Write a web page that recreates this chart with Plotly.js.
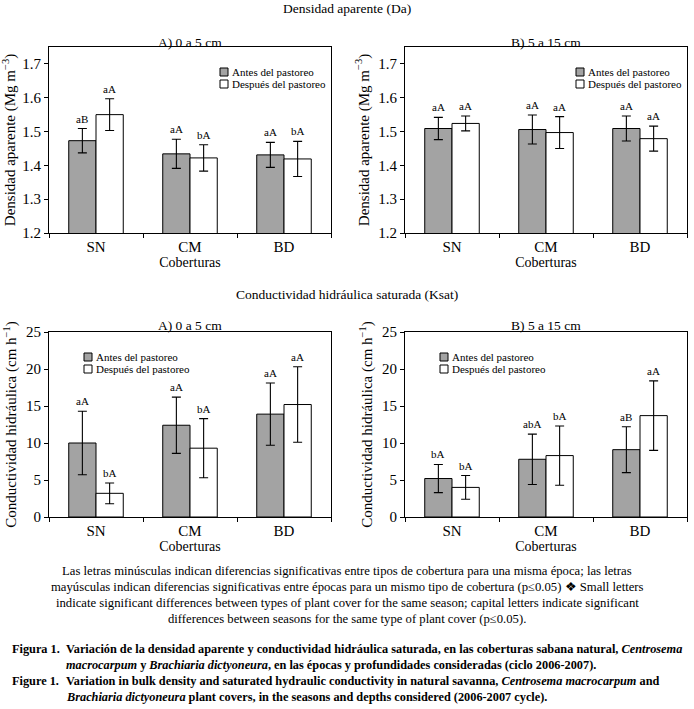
<!DOCTYPE html>
<html>
<head>
<meta charset="utf-8">
<script src="https://cdn.plot.ly/plotly-3.0.1.min.js"></script>
<style>html,body{margin:0;padding:0;background:#fff;}#chart{width:694px;height:709px;}</style>
</head>
<body>
<div id="chart"></div>
<script>
// ---- Data ----
const categories = ['SN', 'CM', 'BD'];
const seriesNames = ['Antes del pastoreo', 'Después del pastoreo'];

// Densidad aparente, A) 0 a 5 cm
const daA_antes = [1.473, 1.434, 1.431];
const daA_antes_err = [0.036, 0.043, 0.037];
const daA_desp = [1.550, 1.422, 1.419];
const daA_desp_err = [0.047, 0.039, 0.052];
const daA_antes_lbl = ['aB', 'aA', 'aA'];
const daA_desp_lbl = ['aA', 'bA', 'bA'];

// Densidad aparente, B) 5 a 15 cm
const daB_antes = [1.509, 1.506, 1.509];
const daB_antes_err = [0.033, 0.043, 0.037];
const daB_desp = [1.524, 1.497, 1.479];
const daB_desp_err = [0.022, 0.047, 0.037];
const daB_antes_lbl = ['aA', 'aA', 'aA'];
const daB_desp_lbl = ['aA', 'aA', 'aA'];

// Conductividad hidráulica, A) 0 a 5 cm
const ksA_antes = [10.0, 12.4, 13.9];
const ksA_antes_err = [4.3, 3.8, 4.2];
const ksA_desp = [3.2, 9.3, 15.2];
const ksA_desp_err = [1.4, 4.0, 5.1];
const ksA_antes_lbl = ['aA', 'aA', 'aA'];
const ksA_desp_lbl = ['bA', 'bA', 'aA'];

// Conductividad hidráulica, B) 5 a 15 cm
const ksB_antes = [5.2, 7.8, 9.1];
const ksB_antes_err = [1.9, 3.4, 3.1];
const ksB_desp = [4.0, 8.3, 13.7];
const ksB_desp_err = [1.6, 4.0, 4.7];
const ksB_antes_lbl = ['bA', 'abA', 'aB'];
const ksB_desp_lbl = ['bA', 'bA', 'aA'];

const daTicks = [1.2, 1.3, 1.4, 1.5, 1.6, 1.7];
const ksTicks = [0, 5, 10, 15, 20, 25];

// ---- Styling ----
const FONT = '"Liberation Serif", "Times New Roman", serif';
const GREY = '#a3a3a3';
const BARCOLORS = [GREY, '#ffffff'];
const BARGAP = 0.42;
const OFF = (1 - BARGAP) / 4; // center offset of each bar in a group

const W = 694, H = 709;
const px = v => v / W;
const py = v => 1 - v / H;

const panels = [
  {xa: 'x', ya: 'y', lx: 220, ly: 72, ante: daA_antes, ae: daA_antes_err, desp: daA_desp, de: daA_desp_err, al: daA_antes_lbl, dl: daA_desp_lbl},
  {xa: 'x2', ya: 'y2', lx: 576, ly: 72, ante: daB_antes, ae: daB_antes_err, desp: daB_desp, de: daB_desp_err, al: daB_antes_lbl, dl: daB_desp_lbl},
  {xa: 'x3', ya: 'y3', lx: 84, ly: 357, ante: ksA_antes, ae: ksA_antes_err, desp: ksA_desp, de: ksA_desp_err, al: ksA_antes_lbl, dl: ksA_desp_lbl},
  {xa: 'x4', ya: 'y4', lx: 440, ly: 357, ante: ksB_antes, ae: ksB_antes_err, desp: ksB_desp, de: ksB_desp_err, al: ksB_antes_lbl, dl: ksB_desp_lbl}
];

const traces = [];
const annotations = [];
const shapes = [];
panels.forEach(p => {
  const errStyle = {type: 'data', color: '#000', thickness: 1.1, width: 4.5};
  traces.push({
    type: 'bar', x: categories, y: p.ante, name: seriesNames[0],
    xaxis: p.xa, yaxis: p.ya, showlegend: false,
    marker: {color: BARCOLORS[0], line: {color: '#000', width: 1}},
    error_y: Object.assign({array: p.ae}, errStyle)
  });
  traces.push({
    type: 'bar', x: categories, y: p.desp, name: seriesNames[1],
    xaxis: p.xa, yaxis: p.ya, showlegend: false,
    marker: {color: BARCOLORS[1], line: {color: '#000', width: 1}},
    error_y: Object.assign({array: p.de}, errStyle)
  });
  categories.forEach((c, i) => {
    annotations.push({xref: p.xa, yref: p.ya, x: i - OFF, y: p.ante[i] + p.ae[i], text: p.al[i],
      showarrow: false, yanchor: 'bottom', yshift: 2, font: {family: FONT, size: 11, color: '#000'}});
    annotations.push({xref: p.xa, yref: p.ya, x: i + OFF, y: p.desp[i] + p.de[i], text: p.dl[i],
      showarrow: false, yanchor: 'bottom', yshift: 2, font: {family: FONT, size: 11, color: '#000'}});
  });
  // legend (key swatches + labels)
  seriesNames.forEach((nm, k) => {
    const cy = p.ly + 12 * k;
    shapes.push({type: 'rect', xref: 'paper', yref: 'paper',
      x0: px(p.lx), x1: px(p.lx + 8), y0: py(cy + 4), y1: py(cy - 4),
      fillcolor: BARCOLORS[k], line: {color: '#000', width: 1}});
    annotations.push({xref: 'paper', yref: 'paper', x: px(p.lx + 10), y: py(cy), text: nm,
      showarrow: false, xanchor: 'left', yanchor: 'middle', font: {family: FONT, size: 11, color: '#000'}});
  });
});

function xaxis(d0, d1, anchor) {
  return {
    domain: [px(d0), px(d1)], anchor: anchor, type: 'category',
    showline: true, mirror: true, linecolor: '#000', linewidth: 1,
    ticks: 'outside', tickson: 'boundaries', ticklen: 4, tickcolor: '#000',
    showgrid: false, zeroline: false, fixedrange: true,
    tickfont: {family: FONT, size: 15, color: '#000'},
    title: {text: 'Coberturas', font: {family: FONT, size: 14, color: '#000'}, standoff: 2}
  };
}
function yaxis(d0, d1, anchor, range, ticks, title, fmt) {
  return {
    domain: [py(d1), py(d0)], anchor: anchor, range: range,
    tickvals: ticks, tickformat: fmt,
    showline: true, mirror: true, linecolor: '#000', linewidth: 1,
    ticks: 'outside', ticklen: 4, tickcolor: '#000',
    showgrid: false, zeroline: false, fixedrange: true,
    tickfont: {family: FONT, size: 15, color: '#000'},
    title: {text: title, font: {family: FONT, size: 15, color: '#000'}, standoff: 5}
  };
}

const daTitle = 'Densidad aparente (Mg m<sup>−3</sup>)';
const ksTitle = 'Conductividad hidráulica (cm h<sup>−1</sup>)';

function txt(x, y, text, size, anchor) {
  return {xref: 'paper', yref: 'paper', x: px(x), y: py(y), text: text, showarrow: false,
    xanchor: anchor || 'center', yanchor: 'middle', font: {family: FONT, size: size, color: '#000'}};
}

// Titles and captions
annotations.push(txt(347, 9, 'Densidad aparente (Da)', 13.5));
annotations.push(txt(190, 42, 'A) 0 a 5 cm', 13.5));
annotations.push(txt(546, 42, 'B) 5 a 15 cm', 13.5));
annotations.push(txt(347, 294, 'Conductividad hidráulica saturada (Ksat)', 13.5));
annotations.push(txt(190, 326, 'A) 0 a 5 cm', 13.5));
annotations.push(txt(546, 326, 'B) 5 a 15 cm', 13.5));

const noteLines = [
  'Las letras minúsculas indican diferencias significativas entre tipos de cobertura para una misma época; las letras',
  'mayúsculas indican diferencias significativas entre épocas para un mismo tipo de cobertura (p≤0.05) ❖ Small letters',
  'indicate significant differences between types of plant cover for the same season; capital letters indicate significant',
  'differences between seasons for the same type of plant cover (p≤0.05).'
];
noteLines.forEach((t, i) => annotations.push(txt(347, 571 + 16 * i, t, 12.7)));

const capLabels = ['<b>Figura 1.</b>', '', '<b>Figure 1.</b>', ''];
const capLines = [
  '<b>Variación de la densidad aparente y conductividad hidráulica saturada, en las coberturas sabana natural, <i>Centrosema</i></b>',
  '<b><i>macrocarpum</i> y <i>Brachiaria dictyoneura</i>, en las épocas y profundidades consideradas (ciclo 2006-2007).</b>',
  '<b>Variation in bulk density and saturated hydraulic conductivity in natural savanna, <i>Centrosema macrocarpum</i> and</b>',
  '<b><i>Brachiaria dictyoneura</i> plant covers, in the seasons and depths considered (2006-2007 cycle).</b>'
];
capLines.forEach((t, i) => {
  if (capLabels[i]) annotations.push(txt(10, 649 + 16 * i, capLabels[i], 12.3, 'left'));
  annotations.push(txt(64, 649 + 16 * i, t, 12.3, 'left'));
});

const layout = {
  width: W, height: H,
  margin: {l: 0, r: 0, t: 0, b: 0},
  paper_bgcolor: '#fff', plot_bgcolor: '#fff',
  barmode: 'group', bargap: BARGAP, bargroupgap: 0,
  font: {family: FONT, color: '#000'},
  xaxis: xaxis(49, 331, 'y'),
  yaxis: yaxis(47, 233, 'x', [1.2, 1.75], daTicks, daTitle, '.1f'),
  xaxis2: xaxis(405, 687, 'y2'),
  yaxis2: yaxis(47, 233, 'x2', [1.2, 1.75], daTicks, daTitle, '.1f'),
  xaxis3: xaxis(49, 331, 'y3'),
  yaxis3: yaxis(332, 517, 'x3', [0, 25], ksTicks, ksTitle, 'd'),
  xaxis4: xaxis(405, 687, 'y4'),
  yaxis4: yaxis(332, 517, 'x4', [0, 25], ksTicks, ksTitle, 'd'),
  annotations: annotations,
  shapes: shapes,
  showlegend: false
};

Plotly.newPlot('chart', traces, layout, {staticPlot: true, displayModeBar: false});
</script>
</body>
</html>
